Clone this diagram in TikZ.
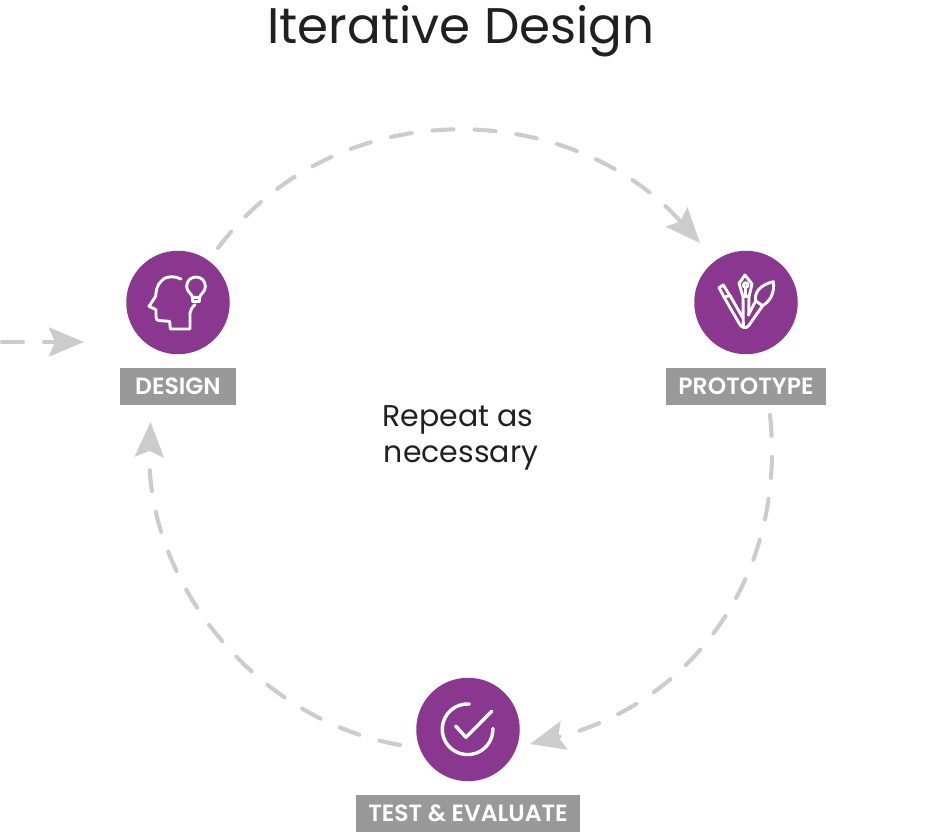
\documentclass[tikz,border=0pt]{standalone}
\usepackage{fontspec}
\setmainfont{Poppins}
\newfontfamily\labfont{Poppins SemiBold}
\usetikzlibrary{arrows.meta}
\definecolor{purp}{HTML}{8A388F}
\definecolor{lab}{HTML}{999999}
\definecolor{dashc}{HTML}{CCCCCC}
\definecolor{ink}{HTML}{231F20}
\tikzset{
  x=1pt,y=1pt,
  disc/.style={circle,fill=purp,minimum size=103.5pt,inner sep=0pt},
  tag/.style={fill=lab,text=white,inner sep=0pt,minimum height=37pt,font=\fontsize{23.5}{27}\labfont},
  flow/.style={draw=dashc,line width=4.1pt,line cap=round,dash pattern=on 21pt off 21pt,
    -{Stealth[length=35pt,width=29pt,inset=6pt,fill=dashc]}},
  icon/.style={draw=white,line width=2.9pt,line join=round,line cap=round},
}
\begin{document}
\begin{tikzpicture}
\useasboundingbox (0,0) rectangle (935,836);
\node[text=ink,font=\fontsize{50}{60}\selectfont,anchor=base] (title) at (461,792) {Iterative Design};
\node[text=ink,font=\fontsize{30}{36}\selectfont,align=center,anchor=base] (rep) at (458,409) {Repeat as};
\node[text=ink,font=\fontsize{30}{36}\selectfont,align=center,anchor=base] (nec) at (461,373) {necessary};

\node[disc] (design) at (178,533.5) {};
\node[disc] (proto) at (746,533.5) {};
\node[disc] (test) at (468,106.5) {};
\node[tag,minimum width=116pt] (designlab) at (178,449.5) {DESIGN};
\node[tag,minimum width=160pt] (protolab) at (746,449.5) {PROTOTYPE};
\node[tag,minimum width=224pt] (testlab) at (468,22.5) {TEST \& EVALUATE};

\coordinate (in0) at (2,494);
\coordinate (in1) at (84,494);
\coordinate (a0) at (218,588);
\coordinate (a1) at (700,593);
\coordinate (b0) at (770,421);
\coordinate (b1) at (530,92);
\coordinate (c0) at (400,91);
\coordinate (c1) at (150.5,414);

\draw[flow] (in0) -- (in1);
\draw[flow] (a0) to[out=53,in=132,looseness=1.04] (a1);
\draw[flow] (b0) to[out=-84,in=14,looseness=1.03] (b1);
\draw[flow] (c0) to[out=170,in=268,looseness=0.96] (c1);

% head with bulb
\begin{scope}[shift={(145,568)},x=0.33333pt,y=-0.33333pt]
\draw[icon] (108,33) .. controls (90,24) and (65,22) .. (50,38)
  .. controls (36,50) and (33,68) .. (32,85) -- (12,115) -- (33,125) -- (33,148)
  .. controls (33,155) and (38,158) .. (45,158) -- (74,160) -- (76,183) -- (135,183) -- (135,135)
  .. controls (136,125) and (142,118) .. (150,110);
\draw[icon] (143,88) .. controls (140,76) and (125,72) .. (125,55)
  .. controls (125,38) and (138,27) .. (153,27)
  .. controls (168,27) and (181,38) .. (181,55)
  .. controls (181,72) and (167,76) .. (164,88) -- cycle;
\draw[icon] (143,88) -- (143,100) -- (164,100) -- (164,88);
\end{scope}

% pens
\begin{scope}[shift={(710,571)},x=0.33333pt,y=-0.33333pt]
\draw[icon] (27,68) -- (40,60) -- (52,80) -- (60,92) -- (98,158);
\draw[icon] (27,68) -- (42,96) -- (88,176)
  .. controls (94,188) and (108,193) .. (116,182) -- (158,122);
\draw[icon] (42,96) -- (60,92);
\draw[icon] (137,108) -- (115,150);
\draw[icon] (137,108) .. controls (132,82) and (150,60) .. (190,50)
  .. controls (194,80) and (184,106) .. (158,122) -- cycle;
\draw[icon] (105,30) -- (87,55) -- (99,95) -- (117,95) -- (126,57) -- cycle;
\draw[icon] (107,60) circle[radius=7];
\draw[icon] (107,68) -- (107,95);
\draw[icon] (99,95) -- (100,182);
\draw[icon] (117,95) -- (116,150);
\end{scope}

% check
\begin{scope}[shift={(350,166)},x=0.33333pt,y=-0.33333pt]
\draw[icon,line width=3.4pt] (358,102) arc[start angle=-86,end angle=-362,radius=76];
\draw[icon,line width=3.4pt] (317,168) -- (348,202) -- (426,123);
\end{scope}
\end{tikzpicture}
\end{document}
